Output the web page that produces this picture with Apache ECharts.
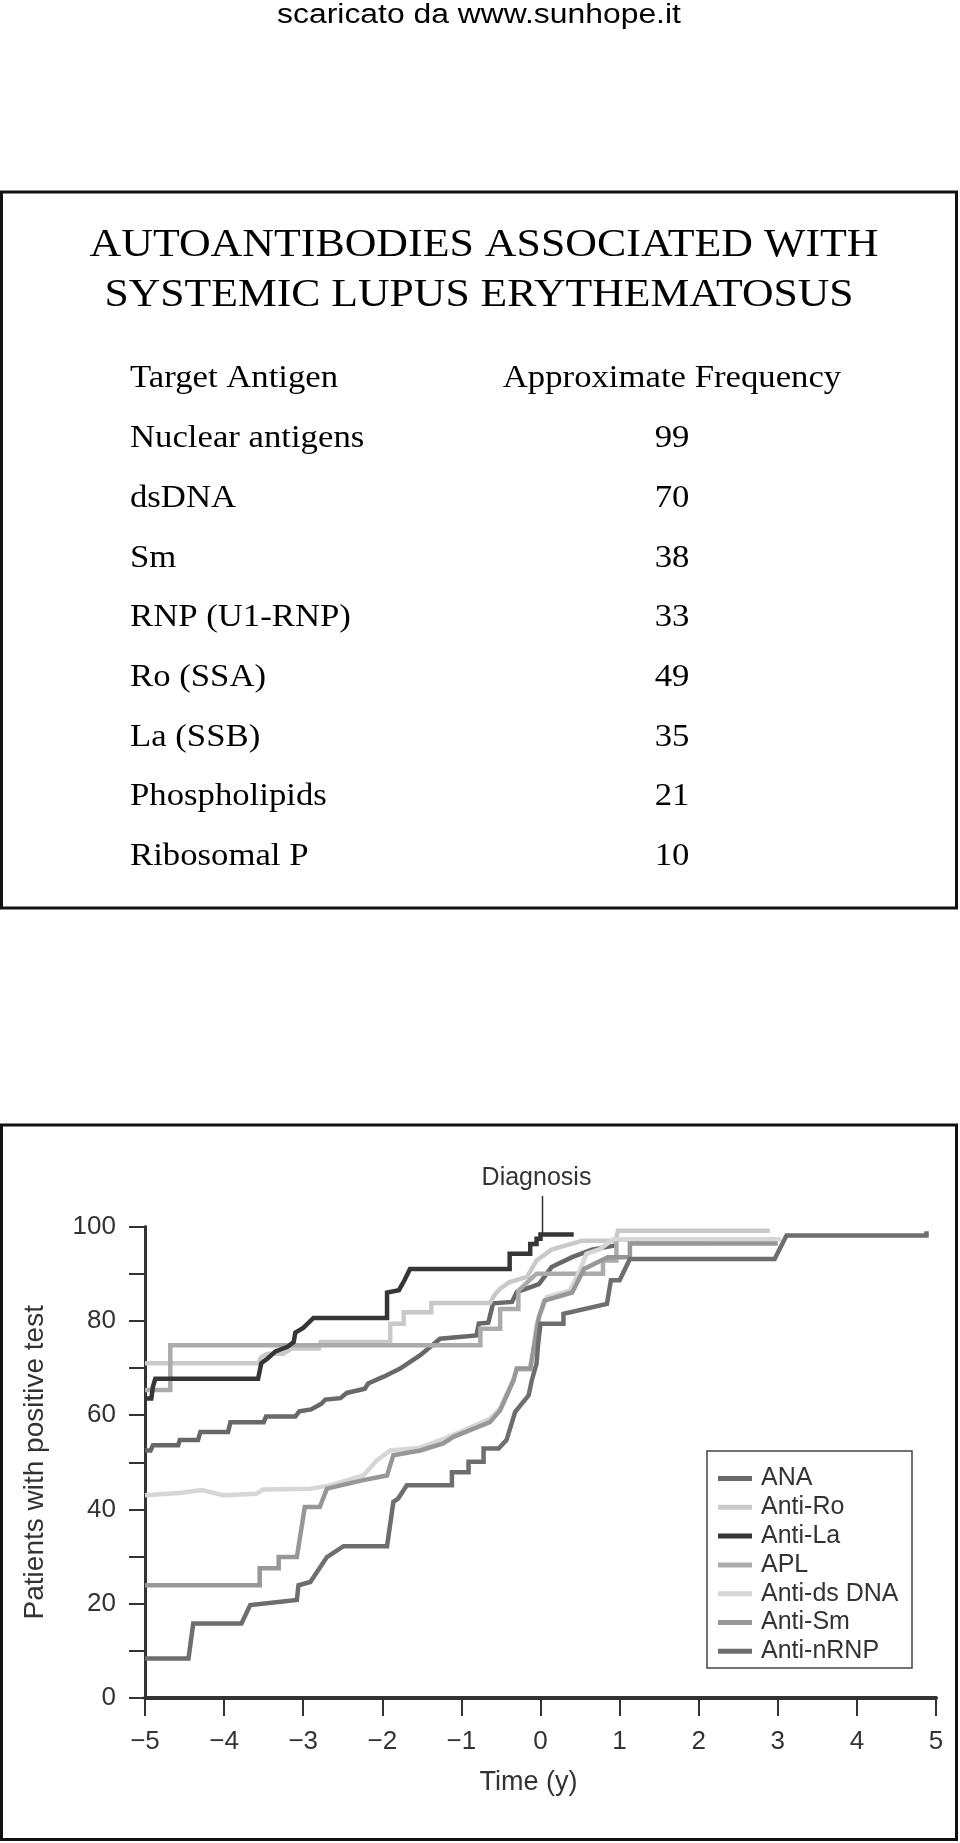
<!DOCTYPE html>
<html><head><meta charset="utf-8">
<script src="https://cdn.jsdelivr.net/npm/echarts@6/dist/echarts.min.js"></script>
<style>html,body{margin:0;padding:0;background:#fff}#c{width:960px;height:1843px}</style>
</head><body><div id="c"></div>
<script>
// ---------- text content ----------
const sourceNote = 'scaricato da www.sunhope.it';
const titleLines = ['AUTOANTIBODIES ASSOCIATED WITH', 'SYSTEMIC LUPUS ERYTHEMATOSUS'];
const tableHeaders = ['Target Antigen', 'Approximate Frequency'];
const antigens = ['Nuclear antigens', 'dsDNA', 'Sm', 'RNP (U1-RNP)', 'Ro (SSA)', 'La (SSB)', 'Phospholipids', 'Ribosomal P'];
const frequencies = [99, 70, 38, 33, 49, 35, 21, 10];

// ---------- chart data ----------
const seriesNames = ['ANA', 'Anti-Ro', 'Anti-La', 'APL', 'Anti-ds DNA', 'Anti-Sm', 'Anti-nRNP'];
const anaData = [[-5,52.5],[-4.93,52.5],[-4.9,53.6],[-4.58,53.6],[-4.56,54.7],[-4.33,54.7],[-4.3,56.4],[-3.95,56.4],[-3.92,58.5],[-3.5,58.5],[-3.47,59.7],[-3.1,59.7],[-3.05,60.8],[-2.9,61.2],[-2.77,62.4],[-2.72,63.3],[-2.53,63.6],[-2.45,64.7],[-2.22,65.6],[-2.18,66.7],[-1.99,68.1],[-1.78,69.8],[-1.52,72.7],[-1.27,76.2],[-0.81,76.9],[-0.78,79.4],[-0.66,79.6],[-0.6,83.7],[-0.36,84.0],[-0.3,86.1],[-0.02,87.8],[0.14,91.4],[0.40,93.5],[0.65,95.1],[0.95,96.0]];
const antiRoData = [[-5,71],[-3.57,71],[-3.53,72.3],[-3.45,73],[-3.25,73],[-3.15,74.1],[-2.8,74.1],[-2.78,75.5],[-1.9,75.5],[-1.9,79.4],[-1.73,79.4],[-1.73,81.8],[-1.38,81.8],[-1.38,83.8],[-0.64,83.8],[-0.57,85.7],[-0.51,86.8],[-0.39,88.2],[-0.17,89.3],[-0.05,92.8],[0.14,95.1],[0.53,97.0],[0.95,97.0],[0.98,99.1],[2.9,99.1]];
const antiLaData = [[-5,63.5],[-4.92,63.5],[-4.9,66],[-4.87,67.7],[-3.57,67.7],[-3.53,71],[-3.45,72],[-3.35,73.5],[-3.2,74.5],[-3.12,75.5],[-3.1,77.5],[-3.0,78.5],[-2.87,80.6],[-1.94,80.6],[-1.94,86],[-1.79,86.5],[-1.72,88.6],[-1.65,91],[-0.39,91],[-0.39,94.2],[-0.13,94.2],[-0.13,96.3],[-0.05,96.3],[-0.05,97.4],[0,97.4],[0,98.3],[0.42,98.3]];
const aplData = [[-5,65.3],[-4.68,65.3],[-4.68,74.8],[-0.76,74.8],[-0.76,78.3],[-0.51,78.3],[-0.51,82.5],[-0.28,82.5],[-0.28,86.4],[-0.05,90.0],[0.79,90.0],[0.79,92.8],[0.96,92.8],[0.96,97.3],[2.13,97.3]];
const antiDsDnaData = [[-5,43.0],[-4.56,43.5],[-4.28,44.1],[-4.01,43.0],[-3.59,43.3],[-3.51,44.2],[-2.91,44.4],[-2.66,45.1],[-2.24,47.2],[-2.07,50.4],[-1.9,52.5],[-1.52,53.1],[-1.23,54.9],[-1.1,55.8],[-0.64,59.2],[-0.51,61.5],[-0.34,67.8],[-0.3,69.6],[-0.13,69.6],[-0.09,73.7],[-0.05,79.4],[0.08,85.0],[0.37,86.4],[0.5,90.7],[0.58,94.2],[0.75,95.2],[0.92,97.3],[3.04,97.3]];
const antiSmData = [[-5,23.9],[-3.55,23.9],[-3.55,27.5],[-3.31,27.5],[-3.31,29.9],[-3.08,29.9],[-2.98,40.5],[-2.79,40.5],[-2.70,44.4],[-2.24,46.2],[-1.94,47.2],[-1.86,51.5],[-1.52,52.5],[-1.23,54.0],[-1.1,55.4],[-0.64,58.5],[-0.51,61.0],[-0.34,67.4],[-0.3,69.9],[-0.13,69.9],[-0.02,80.8],[0.05,84.3],[0.4,86.0],[0.55,91.0],[0.85,93.5],[1.13,93.5],[1.13,96.4],[3.0,96.4]];
const antiNrnpData = [[-5,8.4],[-4.45,8.4],[-4.39,15.8],[-3.78,15.8],[-3.67,19.7],[-3.08,20.8],[-3.06,23.9],[-2.91,24.6],[-2.70,29.9],[-2.49,32.2],[-1.94,32.2],[-1.86,41.6],[-1.80,42.3],[-1.69,45.1],[-1.12,45.1],[-1.12,47.9],[-0.91,47.9],[-0.91,50.1],[-0.72,50.1],[-0.72,52.9],[-0.53,52.9],[-0.43,54.7],[-0.32,60.7],[-0.15,64.2],[-0.11,67.4],[-0.05,70.9],[-0.03,75.1],[0.0,79.4],[0.29,79.4],[0.29,81.5],[0.84,83.6],[0.89,88.6],[1.0,88.6],[1.13,93.1],[2.96,93.1],[3.11,98.1],[4.88,98.1],[4.88,99]];
const diagnosisLabel = 'Diagnosis';
const diagnosisX = 0;
const xAxisTitle = 'Time (y)';
const yAxisTitle = 'Patients with positive test';

// ---------- styles ----------
const seriesColors = ['#686868', '#c9c9c9', '#363636', '#ababab', '#d6d6d6', '#979797', '#6e6e6e'];
const seriesData = [anaData, antiRoData, antiLaData, aplData, antiDsDnaData, antiSmData, antiNrnpData];
const SANS = '"Liberation Sans", Arial, sans-serif';
const SERIF = '"Liberation Serif", "Times New Roman", serif';

const chart = echarts.init(document.getElementById('c'));

const series = seriesNames.map((n, i) => ({
  name: n, type: 'line', data: seriesData[i], showSymbol: false, symbol: 'none',
  lineStyle: { width: 4.5, color: seriesColors[i], join: 'miter' },
  itemStyle: { color: seriesColors[i] }, clip: false, z: 2 + (i === 2 ? 1 : 0)
}));

chart.setOption({
  animation: false,
  backgroundColor: '#fff',
  grid: { left: 145, right: 24, top: 1226.5, bottom: 145, containLabel: false },
  xAxis: {
    type: 'value', min: -5, max: 5, interval: 1,
    name: xAxisTitle, nameLocation: 'middle', nameGap: 71,
    nameTextStyle: { fontFamily: SANS, fontSize: 27, color: '#333', padding: [0, 24, 0, 0] },
    axisLine: { onZero: false, lineStyle: { color: '#333', width: 4 } },
    axisTick: { length: 18, lineStyle: { color: '#333', width: 2 } },
    axisLabel: { margin: 31, fontFamily: SANS, fontSize: 26, color: '#333',
      formatter: v => String(v).replace('-', '\u2212') },
    splitLine: { show: false }
  },
  yAxis: {
    type: 'value', min: 0, max: 100, interval: 10,
    name: yAxisTitle, nameLocation: 'middle', nameGap: 96, nameRotate: 90,
    nameTextStyle: { fontFamily: SANS, fontSize: 28, color: '#333' },
    axisLine: { show: true, onZero: false, lineStyle: { color: '#333', width: 3 } },
    axisTick: { show: true, length: 16, lineStyle: { color: '#333', width: 2 } },
    axisLabel: { margin: 29, fontFamily: SANS, fontSize: 26, color: '#333',
      formatter: v => (v % 20 === 0 ? String(v) : '') },
    splitLine: { show: false }
  },
  legend: {
    orient: 'vertical', left: 718, top: 1466, itemWidth: 34, itemHeight: 5, itemGap: 3.8,
    icon: 'rect', padding: 0, data: seriesNames,
    textStyle: { fontFamily: SANS, fontSize: 25, color: '#333', lineHeight: 25, padding: [0, 0, 0, 4] }
  },
  series: series
});

// ---------- annotations and page texts ----------
const pLineBottom = chart.convertToPixel({ gridIndex: 0 }, [diagnosisX, 98.3]);
const pLineTop = chart.convertToPixel({ gridIndex: 0 }, [diagnosisX, 106.5]);
const pLabel = chart.convertToPixel({ gridIndex: 0 }, [diagnosisX, 110.3]);

const graphics = [];
function txt(text, x, y, size, family, align, sx, color) {
  graphics.push({ type: 'text', x: x, y: y, scaleX: sx || 1, z: 10,
    style: { text: text, fontSize: size, fontFamily: family, fill: color || '#000', align: align, verticalAlign: 'middle' } });
}
// frames
graphics.push({ type: 'rect', shape: { x: 1.5, y: 192, width: 955, height: 716 }, style: { fill: 'none', stroke: '#111', lineWidth: 3 }, z: 1 });
graphics.push({ type: 'rect', shape: { x: 1.5, y: 1125, width: 955, height: 714.5 }, style: { fill: 'none', stroke: '#111', lineWidth: 3 }, z: 1 });
graphics.push({ type: 'rect', shape: { x: 707, y: 1451, width: 205, height: 217 }, style: { fill: 'none', stroke: '#444', lineWidth: 1.5 }, z: 1 });
// header and title
txt(sourceNote, 479, 15.5, 27, SANS, 'center', 1.18, '#000');
txt(titleLines[0], 484, 245, 40, SERIF, 'center', 1.097, '#000');
txt(titleLines[1], 479, 295, 40, SERIF, 'center', 1.092, '#000');
// table
txt(tableHeaders[0], 130, 379, 31, SERIF, 'left', 1.12, '#000');
txt(tableHeaders[1], 672, 379, 31, SERIF, 'center', 1.12, '#000');
antigens.forEach((a, i) => {
  const y = 439 + i * 59.7;
  txt(a, 130, y, 31, SERIF, 'left', 1.12, '#000');
  txt(String(frequencies[i]), 672, y, 31, SERIF, 'center', 1.12, '#000');
});
// diagnosis annotation
graphics.push({ type: 'line', z: 10, shape: { x1: pLineBottom[0] + 2, y1: pLineBottom[1], x2: pLineTop[0] + 2, y2: pLineTop[1] }, style: { stroke: '#333', lineWidth: 1.5 } });
txt(diagnosisLabel, pLabel[0] - 4, pLabel[1], 25, SANS, 'center', 1, '#333');

chart.setOption({ graphic: graphics });
</script>
</body></html>
